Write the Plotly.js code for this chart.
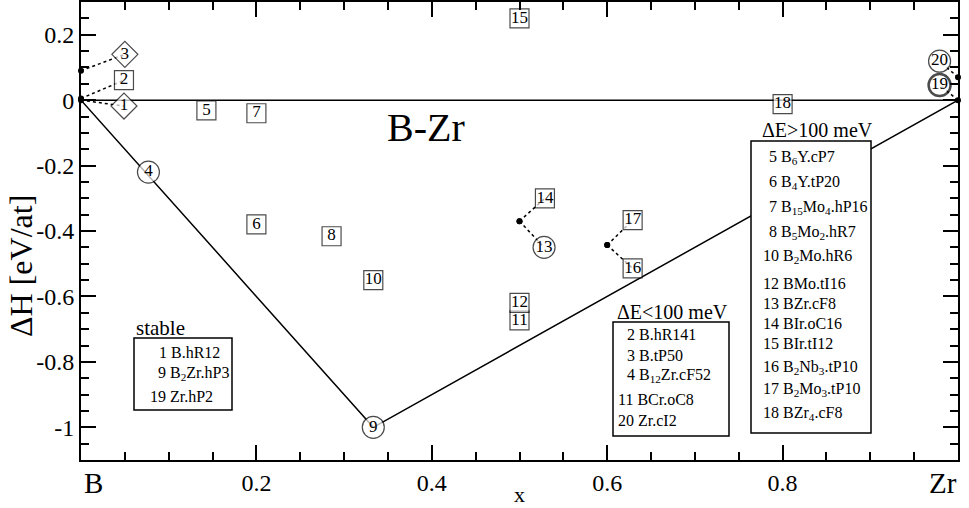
<!DOCTYPE html>
<html><head><meta charset="utf-8">
<script src="https://cdn.plot.ly/plotly-3.0.1.min.js"></script>
<style>html,body{margin:0;padding:0;background:#fff;font-family:'Liberation Serif',serif}</style>
</head><body><div id="chart" style="width:969px;height:508px"></div>
<script>
// ---- data ----
const structIds = [1, 2, 3, 4, 5, 6, 7, 8, 9, 10, 11, 12, 13, 14, 15, 16, 17, 18, 19, 20];
const compX = [0, 0, 0, 0.0769, 0.143, 0.2, 0.2, 0.2857, 0.3333, 0.3333, 0.5, 0.5, 0.5, 0.5, 0.5, 0.6, 0.6, 0.8, 1, 1];
const deltaH = [0, 0.005, 0.09, -0.22, -0.031, -0.38, -0.04, -0.416, -1.0, -0.55, -0.673, -0.62, -0.37, -0.37, 0.25, -0.443, -0.443, -0.012, 0, 0.07];
const stableIds = [1, 9, 19];
const xTickVals = [0, 0.2, 0.4, 0.6, 0.8, 1];
const xTickText = ['', '0.2', '0.4', '0.6', '0.8', ''];
const yTickVals = [-1, -0.8, -0.6, -0.4, -0.2, 0, 0.2];
const yTickText = ['-1', '-0.8', '-0.6', '-0.4', '-0.2', '0', '0.2'];
const stableList = ['1 B.hR12', '9 B<sub>2</sub>Zr.hP3', '19 Zr.hP2'];
const lowList = ['2 B.hR141', '3 B.tP50', '4 B<sub>12</sub>Zr.cF52', '11 BCr.oC8', '20 Zr.cI2'];
const highList = ['5 B<sub>6</sub>Y.cP7', '6 B<sub>4</sub>Y.tP20', '7 B<sub>15</sub>Mo<sub>4</sub>.hP16', '8 B<sub>5</sub>Mo<sub>2</sub>.hR7',
  '10 B<sub>2</sub>Mo.hR6', '12 BMo.tI16', '13 BZr.cF8', '14 BIr.oC16', '15 BIr.tI12', '16 B<sub>2</sub>Nb<sub>3</sub>.tP10',
  '17 B<sub>2</sub>Mo<sub>3</sub>.tP10', '18 BZr<sub>4</sub>.cF8'];

// ---- styling / layout ----
const FONT = 'Liberation Serif';
const symbolOf = {1:'diamond',3:'diamond',4:'circle',9:'circle',13:'circle',19:'circle',20:'circle'};
const labelOffset = {1:[0.049,-0.018],2:[0.049,0.056],3:[0.05,0.05],13:[0.028,-0.08],14:[0.029,0.07],
  16:[0.029,-0.071],17:[0.029,0.076],19:[-0.021,0.046],20:[-0.021,0.049]};
const L = 81, R = 958, T = 2, B = 460;
const X = px => (px - L) / (R - L);
const Y = py => 0.3 - (py - T) / (B - T) * 1.4;

const idx = id => structIds.indexOf(id);
const traces = [];
traces.push({x:[compX[idx(stableIds[0])], compX[idx(stableIds[2])]], y:[0,0], mode:'lines',
  line:{color:'#000', width:1.5}, hoverinfo:'skip'});
traces.push({x:stableIds.map(i=>compX[idx(i)]), y:stableIds.map(i=>deltaH[idx(i)]), mode:'lines',
  line:{color:'#000', width:1.5}, hoverinfo:'skip'});
const cx=[], cy=[], dx=[], dy=[];
structIds.forEach((id,k)=>{
  if (labelOffset[id]) {
    const o = labelOffset[id];
    cx.push(compX[k], compX[k]+o[0], null); cy.push(deltaH[k], deltaH[k]+o[1], null);
    dx.push(compX[k]); dy.push(deltaH[k]);
  }
});
traces.push({x:cx, y:cy, mode:'lines', line:{color:'#000', width:1.5, dash:'dot'}, hoverinfo:'skip', cliponaxis:false});
traces.push({x:dx, y:dy, mode:'markers', marker:{color:'#000', size:6}, hoverinfo:'skip', cliponaxis:false});
traces.push({
  x: structIds.map((id,k)=>compX[k] + (labelOffset[id]?labelOffset[id][0]:0)),
  y: structIds.map((id,k)=>deltaH[k] + (labelOffset[id]?labelOffset[id][1]:0)),
  mode:'markers+text', text: structIds.map(String), textposition:'middle center',
  textfont:{family:FONT, size:17, color:'#000'}, cliponaxis:false, hoverinfo:'skip',
  marker:{
    symbol: structIds.map(id=>symbolOf[id]||'square'),
    size: structIds.map(id=>symbolOf[id]==='circle'?22:(symbolOf[id]==='diamond'?20:19)),
    color:'#fff',
    line:{color:'#000', width: structIds.map(id=>id===19?2.5:1.2)}
  }
});

const annotations = [];
const shapes = [];
function txt(text, px, py, size, opts) {
  annotations.push(Object.assign({text, x:X(px), y:Y(py), xref:'x', yref:'y', showarrow:false,
    xanchor:'left', yanchor:'middle', font:{family:FONT, size, color:'#000'}}, opts||{}));
}
function box(x0,y0,x1,y1){
  shapes.push({type:'rect', xref:'x', yref:'y', x0:X(x0), y0:Y(y0), x1:X(x1), y1:Y(y1),
    line:{color:'#000', width:1.5}, fillcolor:'#fff', layer:'above'});
}
txt('B-Zr', 426, 127, 40, {xanchor:'center'});
txt('stable', 134, 328, 21);
box(134, 338, 232, 410);
const stableY = [352, 373, 396], stableX = [157, 156, 148];
stableList.forEach((s,i)=>txt(s, stableX[i], stableY[i], 16));
txt('ΔE&lt;100 meV', 615, 312, 20);
box(613, 322, 729, 436);
const lowY = [334, 355, 375, 399, 420], lowX = [625, 625, 625, 616, 616];
lowList.forEach((s,i)=>txt(s, lowX[i], lowY[i], 16));
txt('ΔE&gt;100 meV', 760, 130, 20);
box(751, 141, 871, 433);
const highY = [157, 182, 207, 232, 256, 283, 303, 323, 343, 367, 389, 413];
const highX = [767, 767, 767, 767, 761, 761, 761, 761, 761, 761, 761, 761];
highList.forEach((s,i)=>txt(s, highX[i], highY[i], 16));

annotations.push({text:'B', x:0, xref:'x', y:0, yref:'paper', yshift:-23, xanchor:'left', xshift:1, yanchor:'middle',
  showarrow:false, font:{family:FONT, size:29, color:'#000'}});
annotations.push({text:'Zr', x:1, xref:'x', y:0, yref:'paper', yshift:-23, xanchor:'right', xshift:1, yanchor:'middle',
  showarrow:false, font:{family:FONT, size:29, color:'#000'}});
annotations.push({text:'x', x:0.5, xref:'x', y:0, yref:'paper', yshift:-34, xanchor:'center', yanchor:'middle',
  showarrow:false, font:{family:FONT, size:22, color:'#000'}});
annotations.push({text:'ΔH [eV/at]', x:0, xref:'paper', xshift:-60, y:Y(266), yref:'y', xanchor:'center', yanchor:'middle',
  textangle:-90, showarrow:false, font:{family:FONT, size:32, color:'#000'}});

const axisCommon = {showgrid:false, zeroline:false, showline:true, linecolor:'#000', linewidth:2, mirror:'ticks',
  ticks:'inside', ticklen:15, tickwidth:1.5, tickcolor:'#000', tickmode:'array',
  tickfont:{family:FONT, size:24, color:'#000'}};
const layout = {
  width:969, height:508, margin:{l:L, r:969-R, t:T, b:508-B}, showlegend:false,
  paper_bgcolor:'#fff', plot_bgcolor:'#fff', font:{family:FONT, color:'#000'},
  xaxis: Object.assign({}, axisCommon, {range:[0,1], tickvals:xTickVals, ticktext:xTickText,
    minor:{tickmode:'linear', tick0:0, dtick:0.05, ticks:'inside', ticklen:8, tickwidth:1.5, tickcolor:'#000'}}),
  yaxis: Object.assign({}, axisCommon, {range:[-1.1,0.3], tickvals:yTickVals, ticktext:yTickText,
    minor:{tickmode:'linear', tick0:0, dtick:0.05, ticks:'inside', ticklen:8, tickwidth:1.5, tickcolor:'#000'}}),
  annotations, shapes
};
function draw(){ Plotly.newPlot('chart', traces, layout, {displayModeBar:false}); }
if (document.fonts && document.fonts.load) {
  document.fonts.load('16px "Liberation Serif"').then(draw, draw);
} else { draw(); }
</script>
</body></html>
